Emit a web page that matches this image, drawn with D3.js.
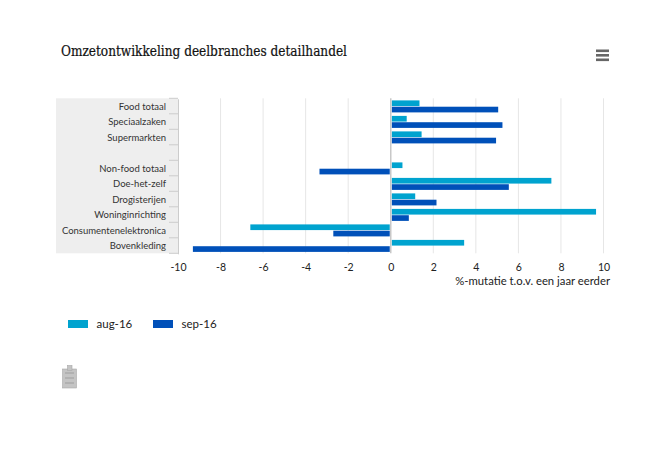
<!DOCTYPE html>
<html><head><meta charset="utf-8">
<script src="https://cdn.jsdelivr.net/npm/d3@7/dist/d3.min.js"></script>
<style>html,body{margin:0;padding:0;background:#fff}svg{display:block}</style></head>
<body><div id="chart"></div>
<script>
const categories = ["Food totaal","Speciaalzaken","Supermarkten"," ","Non-food totaal","Doe-het-zelf","Drogisterijen","Woninginrichting","Consumentenelektronica","Bovenkleding"];
const seriesNames = ["aug-16","sep-16"];
const aug16 = [1.35,0.75,1.45,null,0.55,7.55,1.15,9.65,-6.6,3.45];
const sep16 = [5.05,5.25,4.95,null,-3.35,5.55,2.15,0.85,-2.7,-9.3];
const xTicks = [-10,-8,-6,-4,-2,0,2,4,6,8,10];
const colors = ["#00A3CF","#0050B9"];
const titleText = "Omzetontwikkeling deelbranches detailhandel";
const xLabel = "%-mutatie t.o.v. een jaar eerder";

const font = "Lato, 'Open Sans', sans-serif";
const svg = d3.select("#chart").append("svg").attr("width",650).attr("height",450);
const x = d3.scaleLinear().domain([-10,10]).range([178,603.5]);
const y = d3.scaleBand().domain(categories).range([98.3,253.3]);
const y1 = d3.scaleBand().domain(seriesNames).range([2.1,14.1]).paddingInner(0.1);

svg.append("text").attr("x",61).attr("y",56).attr("font-family","'DejaVu Serif Condensed','DejaVu Serif',serif")
  .attr("font-size",14).attr("fill","#111").attr("stroke","#111").attr("stroke-width",0.2)
  .attr("textLength",286).attr("lengthAdjust","spacingAndGlyphs").text(titleText);

// label background
svg.append("rect").attr("x",56).attr("y",98.3).attr("width",122).attr("height",155).attr("fill","#eeeeee");

// grid
svg.append("g").selectAll("line").data(xTicks.filter(t=>t!==-10&&t!==0)).join("line")
  .attr("x1",d=>x(d)).attr("x2",d=>x(d)).attr("y1",98.3).attr("y2",253.3)
  .attr("stroke","#e6e6e6").attr("stroke-width",1);

// bars
const series = [aug16,sep16];
series.forEach((vals,si)=>{
  svg.append("g").selectAll("rect").data(categories.map((c,i)=>({c,v:vals[i]})).filter(d=>d.v!==null)).join("rect")
    .attr("x",d=>d.v>=0?x(0)+1:x(d.v))
    .attr("width",d=>d.v>=0?x(d.v)-x(0)-1:x(0)-x(d.v)-1)
    .attr("y",d=>y(d.c)+y1(seriesNames[si]))
    .attr("height",y1.bandwidth())
    .attr("fill",colors[si]);
});

// zero line
svg.append("line").attr("x1",x(0)).attr("x2",x(0)).attr("y1",98.3).attr("y2",253.3).attr("stroke","#c8c8c8").attr("stroke-width",1.5);

// y axis
const yAxis = svg.append("g").attr("transform","translate(178,0.5)")
  .call(d3.axisLeft(y).tickSize(0).tickPadding(12));
yAxis.select(".domain").attr("stroke","#cccccc");
yAxis.selectAll("text").attr("font-family",font).attr("font-size",9.5).attr("fill","#333");
const edges = categories.map(c=>y(c)).concat([y.range()[1]]);
svg.append("g").selectAll("line").data(edges).join("line")
  .attr("x1",169).attr("x2",178).attr("y1",d=>d).attr("y2",d=>d).attr("stroke","#cccccc");

// x axis
const xAxis = svg.append("g").attr("transform","translate(0,253.3)")
  .call(d3.axisBottom(x).tickValues(xTicks).tickFormat(d=>String(d)).tickSize(0).tickPadding(10));
xAxis.select(".domain").remove();
xAxis.selectAll("text").attr("font-family",font).attr("font-size",10.5).attr("fill","#222");
svg.append("text").attr("x",610).attr("y",285).attr("text-anchor","end").attr("font-family",font)
  .attr("font-size",11.3).attr("fill","#222").text(xLabel);

// legend
const legend = svg.append("g").selectAll("g").data(seriesNames).join("g")
  .attr("transform",(d,i)=>`translate(${68+i*85},0)`);
legend.append("rect").attr("y",320).attr("width",20).attr("height",8).attr("fill",(d,i)=>colors[i]);
legend.append("text").attr("x",28.5).attr("y",327.5).attr("font-family",font).attr("font-size",11.5).attr("fill","#222").text(d=>d);

// menu icon
svg.append("g").selectAll("rect").data([0,1,2]).join("rect")
  .attr("x",596).attr("y",d=>49.5+d*4.5).attr("width",13).attr("height",2.6).attr("fill","#666");

// clipboard icon
const ic = svg.append("g").attr("fill","#c4c4c4").attr("stroke","#a8a8a8").attr("stroke-width",0.6);
ic.append("rect").attr("x",62.5).attr("y",369).attr("width",14).attr("height",19);
ic.append("rect").attr("x",67.5).attr("y",365.5).attr("width",4.5).attr("height",5);
const il = svg.append("g").attr("stroke","#8f8f8f").attr("stroke-width",0.7);
[373,378,383].forEach(v=>il.append("line").attr("x1",65).attr("x2",74).attr("y1",v).attr("y2",v));
</script></body></html>
